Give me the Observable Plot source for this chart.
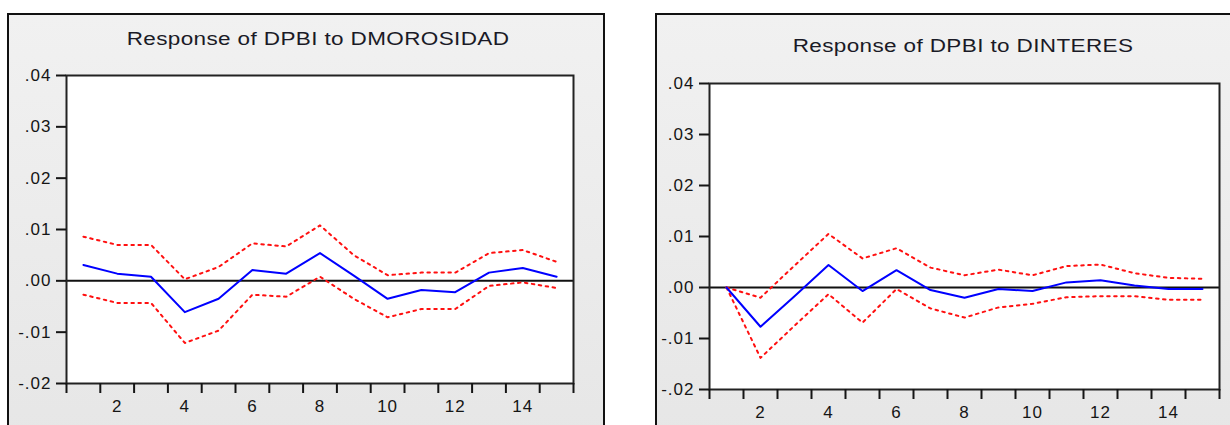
<!DOCTYPE html>
<html>
<head>
<meta charset="utf-8">
<script src="https://cdn.jsdelivr.net/npm/d3@7"></script>
<script src="https://cdn.jsdelivr.net/npm/@observablehq/plot@0.6"></script>
<style>
  html, body { margin: 0; padding: 0; background: #ffffff; }
  body { width: 1230px; height: 425px; overflow: hidden; position: relative; font-family: "Liberation Sans", Arial, sans-serif; }
  .panel { position: absolute; box-sizing: border-box; border: 2px solid #111; background: linear-gradient(#f1f1f1, #e6e6e6); }
  .title { position: absolute; width: 600px; text-align: center; font-size: 18px; line-height: 18px; color: #1a1a26; transform: scaleX(1.25); transform-origin: center; letter-spacing: 0.3px; white-space: nowrap; }
  .chart { position: absolute; top: 0; }
  .chart svg { overflow: visible; }
  .chart text { letter-spacing: 1px; }
</style>
</head>
<body>
<div class="panel" style="left:7px; top:13px; width:598px; height:440px;"></div>
<div class="panel" style="left:655px; top:13px; width:600px; height:440px;"></div>
<div class="title" style="left:18px; top:30px;">Response of DPBI to DMOROSIDAD</div>
<div class="title" style="left:663px; top:37px;">Response of DPBI to DINTERES</div>
<div id="left" class="chart" style="left:0px;"></div>
<div id="right" class="chart" style="left:655px;"></div>
<script>
// ---- data ----
const periods = [1, 2, 3, 4, 5, 6, 7, 8, 9, 10, 11, 12, 13, 14, 15];

const moroResponse = [0.0031, 0.0014, 0.0008, -0.0061, -0.0035, 0.0021, 0.0014, 0.0054, 0.0010, -0.0035, -0.0018, -0.0022, 0.0016, 0.0025, 0.0008];
const moroUpper    = [0.0086, 0.0070, 0.0070, 0.0003, 0.0027, 0.0073, 0.0067, 0.0108, 0.0050, 0.0011, 0.0016, 0.0016, 0.0054, 0.0060, 0.0037];
const moroLower    = [-0.0027, -0.0043, -0.0043, -0.0121, -0.0097, -0.0027, -0.0031, 0.0008, -0.0035, -0.0071, -0.0055, -0.0055, -0.0010, -0.0003, -0.0014];

const intResponse = [0.0000, -0.0077, -0.0017, 0.0044, -0.0007, 0.0034, -0.0005, -0.0020, -0.0003, -0.0007, 0.0010, 0.0014, 0.0004, -0.0003, -0.0003];
const intUpper    = [0.0000, -0.0020, 0.0043, 0.0105, 0.0057, 0.0077, 0.0039, 0.0024, 0.0035, 0.0024, 0.0042, 0.0045, 0.0028, 0.0019, 0.0017];
const intLower    = [0.0000, -0.0138, -0.0075, -0.0013, -0.0069, -0.0003, -0.0041, -0.0059, -0.0039, -0.0032, -0.0019, -0.0017, -0.0017, -0.0024, -0.0024];

const yTicks = [-0.02, -0.01, 0.00, 0.01, 0.02, 0.03, 0.04];
const yTickLabels = ["-.02", "-.01", ".00", ".01", ".02", ".03", ".04"];
const xTickLabels = [2, 4, 6, 8, 10, 12, 14];
const xTickMarks = [0.5, 1.5, 2.5, 3.5, 4.5, 5.5, 6.5, 7.5, 8.5, 9.5, 10.5, 11.5, 12.5, 13.5, 14.5, 15.5];

function rows(vals) { return periods.map((p, i) => ({ period: p, value: vals[i] })); }

function makeChart(resp, up, lo, dims) {
  const yFmt = v => yTickLabels[yTicks.findIndex(t => Math.abs(t - v) < 1e-9)];
  return Plot.plot({
    width: dims.width,
    height: 425,
    marginLeft: dims.ml,
    marginRight: dims.mr,
    marginTop: dims.mt,
    marginBottom: dims.mb,
    style: { background: "transparent", fontSize: "17px", fontFamily: "'Liberation Sans', Arial, sans-serif", color: "#151515" },
    x: { domain: [0.5, 15.5] },
    y: { domain: [-0.02, 0.04] },
    marks: [
      Plot.frame({ fill: "white" }),
      Plot.ruleY([0], { stroke: "#111", strokeWidth: 2 }),
      Plot.line(rows(up), { x: "period", y: "value", stroke: "#ff1010", strokeWidth: 2, strokeDasharray: "2.5,4.5" }),
      Plot.line(rows(lo), { x: "period", y: "value", stroke: "#ff1010", strokeWidth: 2, strokeDasharray: "2.5,4.5" }),
      Plot.line(rows(resp), { x: "period", y: "value", stroke: "#0000ff", strokeWidth: 2 }),
      Plot.frame({ stroke: "#222", strokeWidth: 2 }),
      Plot.axisY({ ticks: yTicks, tickFormat: yFmt, tickSize: 10, tickPadding: 5, strokeWidth: 2, label: null }),
      Plot.axisX({ ticks: xTickMarks, tickFormat: () => "", tickSize: 10, strokeWidth: 2, label: null }),
      Plot.axisX({ ticks: xTickLabels, tickFormat: d => String(d), tickSize: 0, tickPadding: 16, label: null })
    ]
  });
}

document.getElementById("left").append(
  makeChart(moroResponse, moroUpper, moroLower, { width: 605, ml: 66, mr: 32, mt: 75, mb: 42 })
);
document.getElementById("right").append(
  makeChart(intResponse, intUpper, intLower, { width: 575, ml: 54, mr: 11, mt: 83, mb: 36 })
);
</script>
</body>
</html>
